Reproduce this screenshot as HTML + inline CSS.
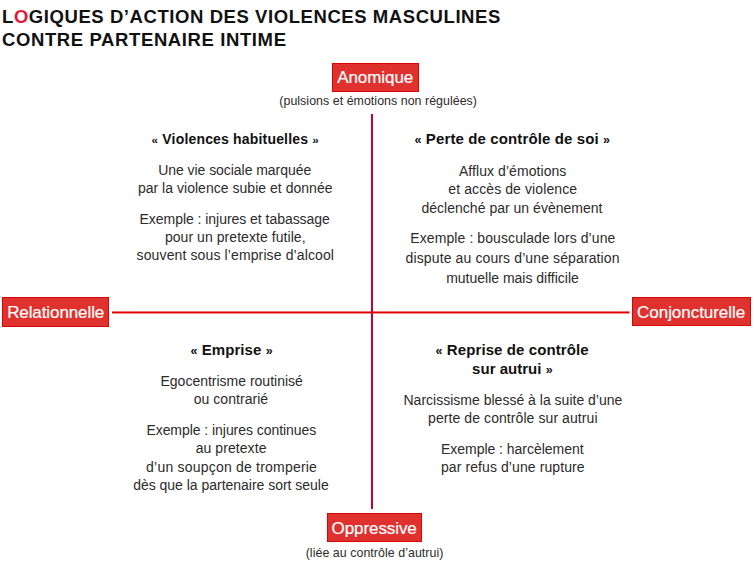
<!DOCTYPE html>
<html><head><meta charset="utf-8"><style>
html,body{margin:0;padding:0;background:#fff}body{font-family:"Liberation Sans",sans-serif}.t{position:absolute;white-space:nowrap}
html,body{width:754px;height:571px;overflow:hidden;position:relative}
.ln{position:absolute}
.box{position:absolute;box-sizing:border-box;background:#df322f;border:1px solid #dd0303}
</style></head><body>

<svg class="ln" style="left:0;top:0" width="754" height="571"><rect x="112" y="311.45" width="517.5" height="2" fill="#e00000"/><rect x="371" y="114" width="2" height="395" fill="#c8003a"/></svg>
<div class="box" style="left:331.5px;top:62.7px;width:87.5px;height:29.3px"></div>
<div class="box" style="left:2px;top:297px;width:107.2px;height:29.6px"></div>
<div class="box" style="left:631.8px;top:297.2px;width:119px;height:29.2px"></div>
<div class="box" style="left:326.5px;top:512.5px;width:95.3px;height:29.3px"></div>

<div class='t' style='left:2.00px;top:5px;font-size:18.5px;line-height:23.125px;font-weight:700;color:#111;letter-spacing:0.571px;transform:scaleY(0.96);transform-origin:0 18px'>L<span style="color:#e3163a">O</span>GIQUES D’ACTION DES VIOLENCES MASCULINES</div>
<div class='t' style='left:2.00px;top:28px;font-size:18.5px;line-height:23.125px;font-weight:700;color:#111;letter-spacing:0.609px;transform:scaleY(0.96);transform-origin:0 18px'>CONTRE PARTENAIRE INTIME</div>
<div class='t' style='left:337.20px;top:67px;font-size:17px;line-height:21.25px;font-weight:400;color:#fff;letter-spacing:-0.071px;-webkit-text-stroke:0.2px #fff'>Anomique</div>
<div class='t' style='left:7.15px;top:302px;font-size:17px;line-height:21.25px;font-weight:400;color:#fff;letter-spacing:-0.096px;-webkit-text-stroke:0.2px #fff'>Relationnelle</div>
<div class='t' style='left:637.10px;top:302px;font-size:17px;line-height:21.25px;font-weight:400;color:#fff;letter-spacing:-0.046px;-webkit-text-stroke:0.2px #fff'>Conjoncturelle</div>
<div class='t' style='left:331.60px;top:518px;font-size:17px;line-height:21.25px;font-weight:400;color:#fff;letter-spacing:-0.089px;-webkit-text-stroke:0.2px #fff'>Oppressive</div>
<div class='t' style='left:279.30px;top:94px;font-size:12.4px;line-height:15.5px;font-weight:400;color:#2b2b2b;letter-spacing:0.041px'>(pulsions et émotions non régulées)</div>
<div class='t' style='left:305.70px;top:546px;font-size:12.4px;line-height:15.5px;font-weight:400;color:#2b2b2b;letter-spacing:0.05px'>(liée au contrôle d’autrui)</div>
<div class='t' style='left:151.60px;top:131px;font-size:14px;line-height:17.5px;font-weight:700;color:#111;letter-spacing:0.175px'><span style="font-size:11.7px">«</span> Violences habituelles <span style="font-size:11.7px">»</span></div>
<div class='t' style='left:414.50px;top:130px;font-size:15px;line-height:18.75px;font-weight:700;color:#111;letter-spacing:0.119px'><span style="font-size:12.5px">«</span> Perte de contrôle de soi <span style="font-size:12.5px">»</span></div>
<div class='t' style='left:190.40px;top:341px;font-size:15px;line-height:18.75px;font-weight:700;color:#111;letter-spacing:0.08px'><span style="font-size:12.5px">«</span> Emprise <span style="font-size:12.5px">»</span></div>
<div class='t' style='left:435.50px;top:341px;font-size:15px;line-height:18.75px;font-weight:700;color:#111;letter-spacing:0.1px'><span style="font-size:12.5px">«</span> Reprise de contrôle</div>
<div class='t' style='left:472.10px;top:360px;font-size:15px;line-height:18.75px;font-weight:700;color:#111;letter-spacing:0.018px'>sur autrui <span style="font-size:12.5px">»</span></div>
<div class='t' style='left:158.20px;top:162px;font-size:14px;line-height:17.5px;font-weight:400;color:#2b2b2b;letter-spacing:-0.05px'>Une vie sociale marquée</div>
<div class='t' style='left:137.90px;top:180px;font-size:14px;line-height:17.5px;font-weight:400;color:#2b2b2b;letter-spacing:0.027px'>par la violence subie et donnée</div>
<div class='t' style='left:139.50px;top:211px;font-size:14px;line-height:17.5px;font-weight:400;color:#2b2b2b;letter-spacing:-0.038px'>Exemple : injures et tabassage</div>
<div class='t' style='left:164.90px;top:229px;font-size:14px;line-height:17.5px;font-weight:400;color:#2b2b2b;letter-spacing:0.061px'>pour un pretexte futile,</div>
<div class='t' style='left:136.60px;top:247px;font-size:14px;line-height:17.5px;font-weight:400;color:#2b2b2b;letter-spacing:0.12px'>souvent sous l’emprise d’alcool</div>
<div class='t' style='left:458.90px;top:163px;font-size:14px;line-height:17.5px;font-weight:400;color:#2b2b2b;letter-spacing:0.069px'>Afflux d’émotions</div>
<div class='t' style='left:448.30px;top:181px;font-size:14px;line-height:17.5px;font-weight:400;color:#2b2b2b;letter-spacing:0.1px'>et accès de violence</div>
<div class='t' style='left:421.50px;top:200px;font-size:14px;line-height:17.5px;font-weight:400;color:#2b2b2b;letter-spacing:0.016px'>déclenché par un évènement</div>
<div class='t' style='left:410.30px;top:230px;font-size:14px;line-height:17.5px;font-weight:400;color:#2b2b2b;letter-spacing:0.09px'>Exemple : bousculade lors d’une</div>
<div class='t' style='left:405.60px;top:250px;font-size:14px;line-height:17.5px;font-weight:400;color:#2b2b2b;letter-spacing:0.119px'>dispute au cours d’une séparation</div>
<div class='t' style='left:446.20px;top:270px;font-size:14px;line-height:17.5px;font-weight:400;color:#2b2b2b;letter-spacing:-0.009px'>mutuelle mais difficile</div>
<div class='t' style='left:160.50px;top:373px;font-size:14px;line-height:17.5px;font-weight:400;color:#2b2b2b;letter-spacing:-0.005px'>Egocentrisme routinisé</div>
<div class='t' style='left:193.70px;top:391px;font-size:14px;line-height:17.5px;font-weight:400;color:#2b2b2b;letter-spacing:0.045px'>ou contrarié</div>
<div class='t' style='left:146.40px;top:422px;font-size:14px;line-height:17.5px;font-weight:400;color:#2b2b2b;letter-spacing:-0.05px'>Exemple : injures continues</div>
<div class='t' style='left:195.70px;top:440px;font-size:14px;line-height:17.5px;font-weight:400;color:#2b2b2b;letter-spacing:0.07px'>au pretexte</div>
<div class='t' style='left:146.10px;top:459px;font-size:14px;line-height:17.5px;font-weight:400;color:#2b2b2b;letter-spacing:0.208px'>d’un soupçon de tromperie</div>
<div class='t' style='left:133.20px;top:477px;font-size:14px;line-height:17.5px;font-weight:400;color:#2b2b2b;letter-spacing:-0.019px'>dès que la partenaire sort seule</div>
<div class='t' style='left:403.50px;top:392px;font-size:14px;line-height:17.5px;font-weight:400;color:#2b2b2b;letter-spacing:0.006px'>Narcissisme blessé à la suite d’une</div>
<div class='t' style='left:428.10px;top:410px;font-size:14px;line-height:17.5px;font-weight:400;color:#2b2b2b;letter-spacing:0.078px'>perte de contrôle sur autrui</div>
<div class='t' style='left:441.00px;top:441px;font-size:14px;line-height:17.5px;font-weight:400;color:#2b2b2b;letter-spacing:-0.03px'>Exemple : harcèlement</div>
<div class='t' style='left:441.00px;top:459px;font-size:14px;line-height:17.5px;font-weight:400;color:#2b2b2b;letter-spacing:0.086px'>par refus d’une rupture</div>
</body></html>
